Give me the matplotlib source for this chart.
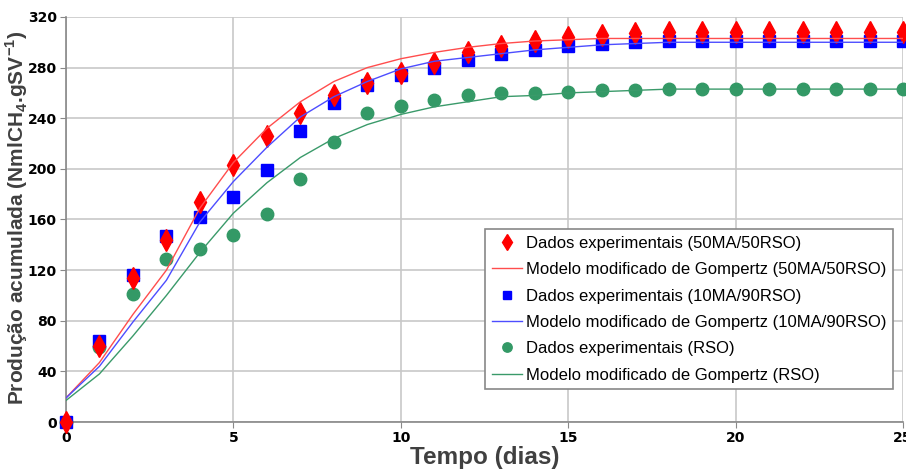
import matplotlib
matplotlib.use("Agg")
import matplotlib.pyplot as plt

plt.rcParams["mathtext.fontset"] = "custom"
plt.rcParams["mathtext.rm"] = "Liberation Sans"
plt.rcParams["mathtext.bf"] = "Liberation Sans:bold"

days = list(range(0, 26))

exp_50ma = [0, 60, 114, 144, 174, 203, 226, 244, 258, 268, 276, 284, 292, 297, 301, 304,
            306, 307, 308, 308, 308, 308, 308, 308, 308, 308]
mod_50ma = [19, 47, 85, 120, 169, 205, 232, 253, 269, 280, 287, 292, 296, 299, 301, 302,
            303, 303, 303, 303, 303, 303, 303, 303, 303, 303]

exp_10ma = [0, 64, 116, 147, 162, 178, 199, 230, 252, 266, 274, 280, 286, 291, 294, 297,
            299, 300, 301, 301, 301, 301, 301, 301, 301, 301]
mod_10ma = [19, 44, 79, 112, 158, 190, 217, 241, 257, 269, 279, 285, 288, 291, 294, 296,
            298, 299, 300, 300, 300, 300, 300, 300, 300, 300]

exp_rso = [0, 59, 101, 129, 137, 148, 164, 192, 221, 244, 250, 254, 258, 260, 260, 261,
           262, 262, 263, 263, 263, 263, 263, 263, 263, 263]
mod_rso = [17, 38, 68, 100, 134, 165, 189, 209, 224, 235, 243, 249, 253, 257, 258, 260,
           261, 262, 263, 263, 263, 263, 263, 263, 263, 263]

labels = ["Dados experimentais (50MA/50RSO)", "Modelo modificado de Gompertz (50MA/50RSO)",
          "Dados experimentais (10MA/90RSO)", "Modelo modificado de Gompertz (10MA/90RSO)",
          "Dados experimentais (RSO)", "Modelo modificado de Gompertz (RSO)"]
xticks = [0, 5, 10, 15, 20, 25]
yticks = [0, 40, 80, 120, 160, 200, 240, 280, 320]

RED, BLUE, GREEN = "#ff0000", "#0000ff", "#339966"

fig = plt.figure(figsize=(9.06, 4.71), dpi=100)
ax = fig.add_axes([0.0728, 0.104, 0.924, 0.860])

h_rso, = ax.plot(days, exp_rso, linestyle="none", marker="o", color=GREEN,
                 markersize=9, zorder=3, clip_on=False)
h_10, = ax.plot(days, exp_10ma, linestyle="none", marker="s", color=BLUE,
                markersize=8, zorder=4, clip_on=False)
h_50, = ax.plot(days, exp_50ma, linestyle="none", marker="d", color=RED,
                markersize=11, zorder=5, clip_on=False)
l_50, = ax.plot(days, mod_50ma, color="#ff4d4d", lw=1.0, zorder=6)
l_10, = ax.plot(days, mod_10ma, color="#4d4dff", lw=1.0, zorder=6)
l_rso, = ax.plot(days, mod_rso, color="#3a9a6a", lw=1.0, zorder=6)

ax.set_xlim(0, 25)
ax.set_ylim(0, 320)
ax.set_xticks(xticks)
ax.set_yticks(yticks)
ax.grid(True, color="#c8c8c8", lw=1.2)
ax.set_axisbelow(True)
for s in ["top", "right"]:
    ax.spines[s].set_visible(False)
for s in ["left", "bottom"]:
    ax.spines[s].set_color("#888888")
    ax.spines[s].set_linewidth(1.2)
ax.tick_params(axis="both", length=4, color="#888888", labelsize=10, pad=2.5)
for t in ax.get_xticklabels() + ax.get_yticklabels():
    t.set_fontweight("bold")
    t.set_family("DejaVu Sans")

ax.set_xlabel("Tempo (dias)", fontsize=17.5, fontweight="bold", color="#404040",
              family="Liberation Sans", labelpad=1)
ax.set_ylabel("Produção acumulada (NmlCH$_\\mathbf{4}$.gSV$^\\mathbf{-1}$)", fontsize=15,
              fontweight="bold", color="#404040", family="Liberation Sans")
ax.yaxis.set_label_coords(-0.043, 0.505)

leg = ax.legend([h_50, l_50, h_10, l_10, h_rso, l_rso], labels,
                loc="lower right", bbox_to_anchor=(0.988, 0.081),
                prop={"family": "Liberation Sans", "size": 12},
                frameon=True, fancybox=False, edgecolor="#888888",
                labelspacing=0.68, handlelength=1.8, handletextpad=0.25,
                borderpad=0.4, borderaxespad=0, markerscale=0.75, framealpha=1)
leg.get_frame().set_linewidth(1.2)

fig.savefig("out.png", dpi=100)
